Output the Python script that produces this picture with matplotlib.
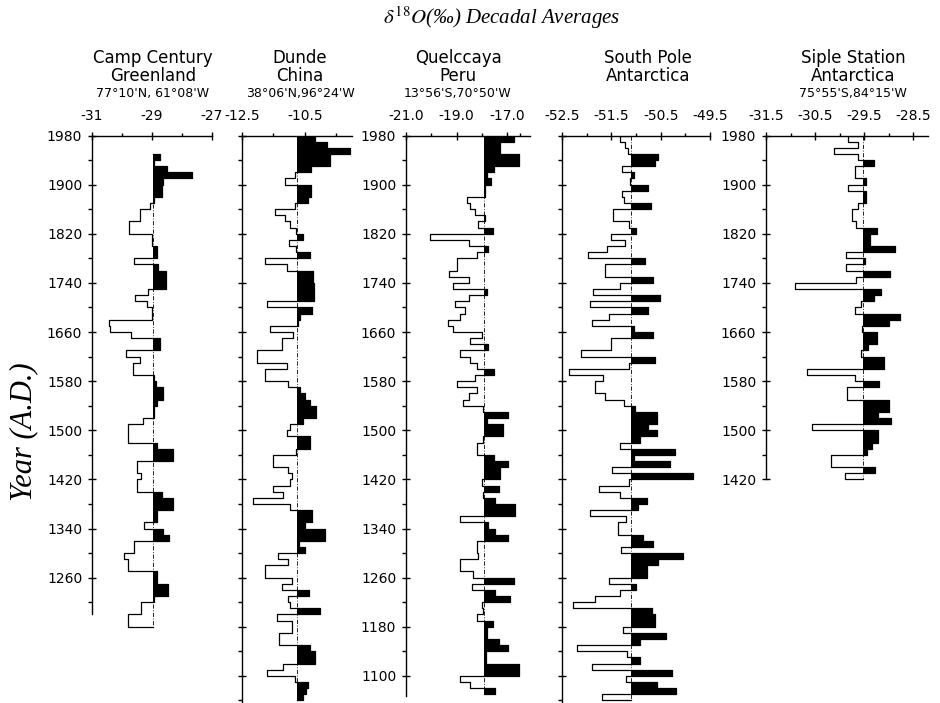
import numpy as np
import matplotlib
matplotlib.use("Agg")
import matplotlib.pyplot as plt

plt.rcParams['font.family'] = ['DejaVu Sans']
plt.rcParams['mathtext.fontset'] = 'stix'

# decadal delta-18O averages, newest decade first
cc_first = 1940
camp_century = [-28.74, -28.93, -28.51, -27.68, -28.63, -28.68, -28.68, -28.94, -29.07, -29.40,
                -29.40, -29.76, -29.76, -29.01, -29.01, -28.85, -28.85, -29.60, -28.79, -28.55,
                -28.55, -28.55, -29.13, -29.57, -29.18, -29.01, -29.01, -30.43, -30.40, -29.71,
                -28.74, -28.74, -29.87, -29.40, -29.65, -29.65, -28.93, -28.87, -28.63, -28.63,
                -28.85, -28.95, -28.95, -29.31, -29.79, -29.79, -29.79, -28.85, -28.31, -28.31,
                -29.51, -29.51, -29.38, -29.51, -29.51, -28.68, -28.31, -28.31, -28.85, -28.85,
                -29.27, -28.63, -28.43, -29.60, -29.60, -29.93, -29.79, -29.79, -28.85, -28.85,
                -28.46, -28.46, -28.94, -29.38, -29.38, -29.79, -29.79]

dunde_first = 1970
dunde = [-10.18, -9.81, -9.07, -9.71, -9.71, -10.29, -10.82, -11.13, -10.32, -10.32,
         -10.39, -10.82, -11.45, -11.13, -10.98, -10.79, -10.57, -11.01, -10.79, -10.34,
         -11.77, -11.08, -10.24, -10.24, -10.20, -10.20, -10.20, -11.69, -10.26, -10.66,
         -10.71, -11.61, -10.87, -11.24, -11.24, -12.01, -12.01, -11.08, -11.77, -11.77,
         -11.03, -10.66, -10.50, -10.34, -10.13, -10.13, -10.55, -10.98, -11.08, -10.34,
         -10.34, -10.79, -11.51, -11.51, -11.03, -10.92, -10.98, -11.51, -11.19, -12.14,
         -10.98, -10.26, -10.26, -10.50, -9.87, -9.87, -10.68, -10.50, -11.35, -11.03,
         -11.77, -11.77, -10.92, -11.24, -10.36, -11.03, -10.98, -10.02, -11.40, -10.92,
         -10.92, -11.31, -11.31, -10.34, -10.18, -10.18, -11.19, -11.72, -10.82, -10.39,
         -10.45, -10.55]

quelccaya_first = 1970
quelccaya = [-16.75, -17.28, -17.28, -16.55, -16.55, -17.54, -17.81, -17.63, -17.87, -17.87,
             -18.60, -18.47, -18.27, -17.87, -18.14, -17.57, -20.05, -18.53, -17.74, -18.20,
             -18.97, -18.97, -19.32, -18.53, -19.15, -17.81, -18.53, -19.06, -18.66, -18.86,
             -19.36, -19.13, -18.00, -18.47, -17.74, -18.86, -18.47, -18.20, -17.51, -18.27,
             -18.99, -18.20, -18.53, -18.73, -17.96, -16.95, -17.81, -17.15, -17.15, -17.94,
             -18.20, -18.20, -17.54, -16.95, -17.28, -17.28, -18.00, -17.34, -17.96, -17.48,
             -16.68, -16.68, -18.86, -17.74, -17.48, -16.95, -18.20, -18.20, -18.14, -18.86,
             -18.86, -18.36, -16.75, -18.40, -17.48, -16.91, -18.00, -17.96, -18.20, -17.57,
             -17.81, -17.81, -17.34, -16.95, -17.83, -17.83, -16.55, -16.55, -18.86, -18.47,
             -17.48]

south_pole_first = 1970
south_pole = [-51.32, -51.22, -51.17, -50.55, -50.61, -51.29, -51.05, -51.13, -50.75, -51.29,
              -51.25, -50.70, -51.46, -51.46, -51.15, -51.00, -51.51, -51.22, -51.59, -51.97,
              -50.82, -51.62, -51.62, -50.66, -51.32, -51.87, -50.51, -51.94, -50.75, -51.54,
              -51.89, -51.05, -50.65, -51.50, -51.50, -52.12, -50.61, -51.15, -52.35, -51.67,
              -51.83, -51.83, -51.62, -51.25, -51.02, -50.58, -50.58, -50.75, -50.57, -50.92,
              -51.33, -50.21, -51.05, -50.32, -51.49, -49.85, -51.15, -51.76, -51.32, -50.78,
              -50.95, -51.93, -51.20, -51.36, -51.36, -50.85, -50.66, -51.30, -50.04, -50.55,
              -50.78, -50.78, -51.54, -51.00, -51.32, -51.83, -52.28, -50.68, -50.61, -50.61,
              -51.27, -50.39, -50.92, -52.20, -51.19, -50.92, -51.89, -50.28, -51.20, -50.58,
              -50.19, -51.69]

siple_first = 1970
siple = [-29.83, -29.62, -30.12, -29.62, -29.29, -29.69, -29.68, -29.47, -29.82, -29.47,
         -29.47, -29.62, -29.75, -29.75, -29.66, -29.24, -29.38, -29.38, -28.88, -29.87,
         -29.49, -29.87, -28.97, -29.66, -30.90, -29.16, -29.31, -29.56, -29.68, -28.78,
         -29.00, -29.54, -29.24, -29.24, -29.42, -29.56, -29.09, -29.09, -30.66, -29.69,
         -29.19, -29.85, -29.85, -28.99, -28.99, -29.21, -28.96, -30.56, -29.22, -29.21,
         -29.35, -29.44, -30.18, -30.18, -29.28, -29.89]

means = [-28.97, -10.74, -17.91, -51.11, -29.53]

names = [("Camp Century", "Greenland", "77°10'N, 61°08'W"),
         ("Dunde", "China", "38°06'N,96°24'W"),
         ("Quelccaya", "Peru", "13°56'S,70°50'W"),
         ("South Pole", "Antarctica", ""),
         ("Siple Station", "Antarctica", "75°55'S,84°15'W")]

xticks = [[-31, -29, -27], [-12.5, -10.5], [-21.0, -19.0, -17.0],
          [-52.5, -51.5, -50.5, -49.5], [-31.5, -30.5, -29.5, -28.5]]
xticklabels = [["-31", "-29", "-27"], ["-12.5", "-10.5"], ["-21.0", "-19.0", "-17.0"],
               ["-52.5", "-51.5", "-50.5", "-49.5"], ["-31.5", "-30.5", "-29.5", "-28.5"]]
xminor = [[-30, -28], [-11.5, -9.5], [-20, -18, -16.5],
          [-52, -51, -50], [-31, -30, -29]]
xlims = [(-31, -27), (-12.5, -9.0), (-21.0, -16.1), (-52.5, -49.5), (-31.5, -28.2)]
spine_bottom = [1200, 1057, 1067, 1057, 1420]
show_years = [True, False, True, False, True]

series = [(cc_first, camp_century), (dunde_first, dunde), (quelccaya_first, quelccaya),
          (south_pole_first, south_pole), (siple_first, siple)]

# panel placement in pixels (left, right), title centre x
px_left = [92, 242, 406, 562, 766]
px_right = [212, 352, 530, 710, 928]
title_x = [153, 300, 458, 648, 853]

W, H = 940, 703
y_top, y_bot = 135.5, 702.3
fig = plt.figure(figsize=(W / 100, H / 100), dpi=100)

for i in range(5):
    L, R = px_left[i], px_right[i]
    ax = fig.add_axes([L / W, (H - y_bot) / H, (R - L) / W, (y_bot - y_top) / H])
    ax.set_xlim(*xlims[i])
    ax.set_ylim(1057, 1980)
    ax.patch.set_alpha(0)

    first, vals = series[i]
    vals = np.array(vals)
    n = len(vals)
    edges = first + 10 - 10 * np.arange(n + 1)
    ys = np.repeat(edges, 2)[1:-1]
    xs = np.repeat(vals, 2)
    m = means[i]

    ax.plot([m, m], [edges[0], edges[-1]], color='k', lw=0.6,
            ls=(0, (5, 2, 1, 2)), zorder=1)
    ax.fill_betweenx(ys, m, xs, where=xs > m, color='k', lw=0, zorder=2)
    ax.plot(np.r_[m, xs, m], np.r_[edges[0], ys, edges[-1]], color='k', lw=0.9, zorder=3)

    for s in ['right', 'bottom']:
        ax.spines[s].set_visible(False)
    ax.spines['left'].set_bounds(spine_bottom[i], 1980)
    ax.spines['left'].set_linewidth(1.0)
    ax.spines['top'].set_linewidth(1.0)

    ax.xaxis.tick_top()
    ax.set_xticks(xticks[i])
    ax.set_xticklabels(xticklabels[i])
    ax.set_xticks(xminor[i], minor=True)
    ax.tick_params(axis='x', which='major', direction='inout', length=6, width=1,
                   pad=6, labelsize=10)
    ax.tick_params(axis='x', which='minor', direction='out', length=2.5, width=1)

    majors = [y for y in range(1980, 1000, -80) if y >= spine_bottom[i]]
    minors = [y for y in range(1940, 1000, -80) if y >= spine_bottom[i]]
    ax.set_yticks(majors)
    ax.set_yticks(minors, minor=True)
    if show_years[i]:
        ax.set_yticklabels([str(y) for y in majors])
    else:
        ax.set_yticklabels([])
    ax.tick_params(axis='y', which='major', direction='inout', length=6, width=1,
                   pad=4, labelsize=10)
    ax.tick_params(axis='y', which='minor', direction='out', length=3, width=1)

    t1, t2, t3 = names[i]
    fig.text(title_x[i] / W, 1 - 58 / H, t1, ha='center', va='center', fontsize=12)
    fig.text(title_x[i] / W, 1 - 76 / H, t2, ha='center', va='center', fontsize=12)
    if t3:
        fig.text(title_x[i] / W, 1 - 93 / H, t3, ha='center', va='center', fontsize=9)

fig.text(502 / W, 1 - 18 / H, r"$\delta^{18}O$(‰) Decadal Averages", ha='center',
         va='center', fontsize=15, family='Liberation Serif', style='italic')
fig.text(24 / W, 1 - 432 / H, "Year (A.D.)", ha='center', va='center', rotation=90,
         fontsize=22, family='Liberation Serif', style='italic')

fig.savefig("out.png", dpi=100)
